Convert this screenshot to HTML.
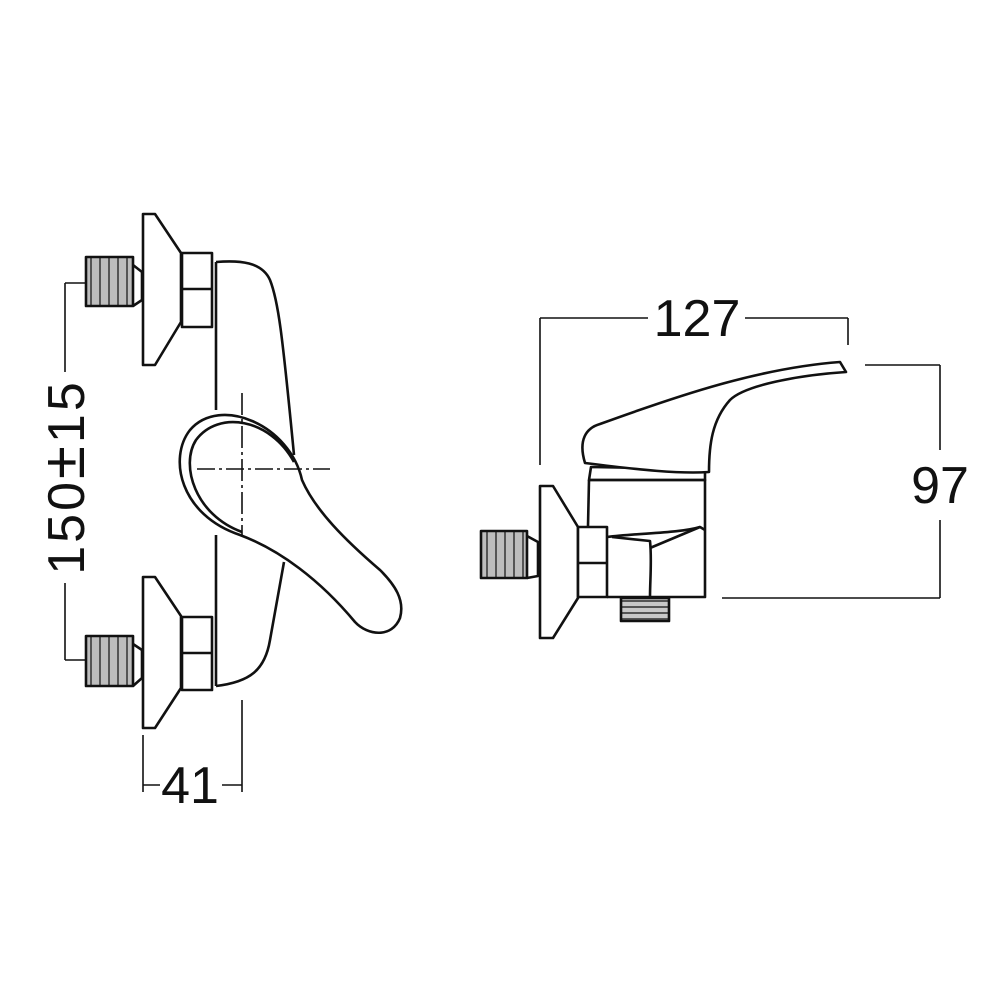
<!DOCTYPE html>
<html><head><style>html,body{margin:0;padding:0;background:#fff;}svg{display:block}</style></head>
<body>
<svg width="1000" height="1000" viewBox="0 0 1000 1000" xmlns="http://www.w3.org/2000/svg">
<defs>
<pattern id="knurl" width="9" height="10" patternUnits="userSpaceOnUse">
<rect width="9" height="10" fill="#bdbdbd"/><rect x="0" width="2" height="10" fill="#555"/>
</pattern>
<pattern id="knurlh" width="10" height="6" patternUnits="userSpaceOnUse">
<rect width="10" height="6" fill="#c8c8c8"/><rect y="0" width="10" height="2" fill="#555"/>
</pattern>
</defs>
<g fill="none" stroke="#111" stroke-width="2.6" stroke-linejoin="round">
<rect x="86" y="257" width="47" height="49" fill="url(#knurl)"/>
<path d="M133,265 L142,272 L142,300 L133,306"/>
<path d="M143,214 L155,214 L181,253 L181,322 L155,365 L143,365 Z" fill="#fff"/>
<rect x="182" y="253" width="30" height="74" fill="#fff"/>
<line x1="182" y1="289" x2="212" y2="289"/>
<rect x="86" y="636" width="47" height="50" fill="url(#knurl)"/>
<path d="M133,644 L142,650 L142,678 L133,686"/>
<path d="M143,577 L155,577 L181,616 L181,688 L155,728 L143,728 Z" fill="#fff"/>
<rect x="182" y="617" width="30" height="73" fill="#fff"/>
<line x1="182" y1="653" x2="212" y2="653"/>
<path d="M216,262 C240,260 262,262 270,280 C278,300 282,330 294,455"/>
<line x1="216" y1="262" x2="216" y2="410"/>
<line x1="216" y1="535" x2="216" y2="686"/>
<path d="M216,686 C250,682 265,670 270,640 L284,562"/>
<path d="M302,480 C290,425 220,395 190,430 C168,458 180,515 240,535 C280,550 320,580 355,622 C368,636 392,638 400,618 C405,600 395,585 380,570 C345,540 315,510 302,480 Z" fill="#fff"/>
<path d="M294,462 C270,418 218,410 196,440 C180,465 195,515 242,532"/>
<line x1="197" y1="469" x2="330" y2="469" stroke-width="1.6" stroke-dasharray="18,4,3,4"/>
<line x1="242" y1="393" x2="242" y2="535" stroke-width="1.6" stroke-dasharray="22,4,3,4"/>
<g stroke-width="1.6">
<line x1="65" y1="283" x2="65" y2="372"/>
<line x1="65" y1="583" x2="65" y2="660"/>
<line x1="65" y1="283" x2="86" y2="283"/>
<line x1="65" y1="660" x2="86" y2="660"/>
<line x1="143" y1="735" x2="143" y2="792"/>
<line x1="242" y1="700" x2="242" y2="792"/>
<line x1="143" y1="785" x2="160" y2="785"/>
<line x1="222" y1="785" x2="242" y2="785"/>
<line x1="540" y1="318" x2="540" y2="465"/>
<line x1="848" y1="318" x2="848" y2="345"/>
<line x1="540" y1="318" x2="648" y2="318"/>
<line x1="745" y1="318" x2="848" y2="318"/>
<line x1="940" y1="365" x2="940" y2="450"/>
<line x1="940" y1="520" x2="940" y2="598"/>
<line x1="865" y1="365" x2="940" y2="365"/>
<line x1="722" y1="598" x2="940" y2="598"/>
</g>
<rect x="481" y="531" width="46" height="47" fill="url(#knurl)"/>
<path d="M527,536 L538,542 L538,576 L527,578"/>
<path d="M540,486 L553,486 L578,527 L578,598 L553,638 L540,638 Z" fill="#fff"/>
<rect x="578" y="527" width="29" height="70" fill="#fff"/>
<line x1="578" y1="563" x2="607" y2="563"/>
<path d="M589,480 L705,480 L705,597 L607,597"/>
<line x1="589" y1="480" x2="588" y2="526"/>
<path d="M607,537 C640,533 680,533 700,527 L705,530"/>
<path d="M612,537 L650,541 C652,560 650,580 650,597"/>
<path d="M650,548 L700,527"/>
<path d="M591,467 L705,469 L705,480 L589,480 Z"/>
<path d="M585,463 C578,440 586,428 600,424 C680,395 760,368 840,362 L846,372 C800,375 745,385 730,400 C712,420 709,445 709,472 C680,474 640,470 585,463 Z" fill="#fff"/>
<rect x="621" y="598" width="48" height="23" fill="url(#knurlh)"/>
</g>
<g font-family="'Liberation Sans', sans-serif" font-size="52" fill="#111">
<text x="190" y="803" text-anchor="middle">41</text>
<text x="697" y="336" text-anchor="middle">127</text>
<text x="940" y="503" text-anchor="middle">97</text>
<text transform="translate(84,477) rotate(-90)" text-anchor="middle" letter-spacing="3">150<tspan font-size="60">±</tspan>15</text>
</g>
</svg>
</body></html>
